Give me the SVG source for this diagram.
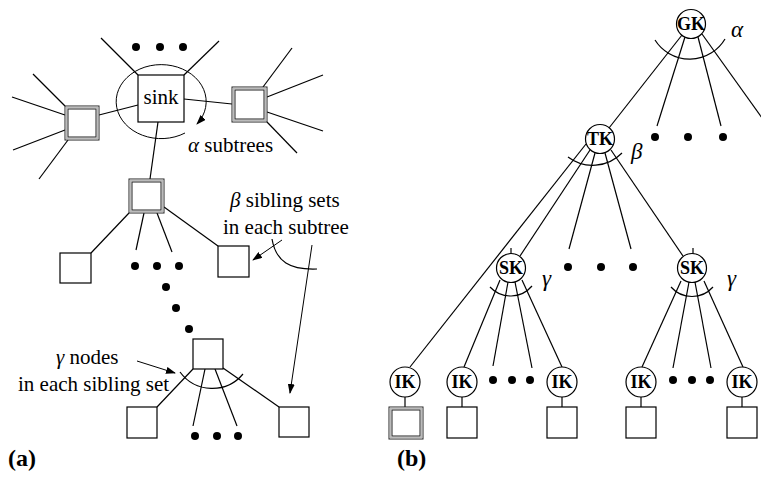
<svg xmlns="http://www.w3.org/2000/svg" width="761" height="482" viewBox="0 0 761 482">
<style>
text{font-family:"Liberation Serif","Times New Roman",serif;fill:#000}
.lbl{font-size:21px}
.gr{font-style:italic;font-size:23px}
.k{font-size:18px;font-weight:bold;text-anchor:middle}
.pn{font-size:24px;font-weight:bold}
.ln{stroke:#000;stroke-width:1.2;fill:none}
.sq{fill:#fff;stroke:#000;stroke-width:1.2}
.dq1{fill:#fff;stroke:#222;stroke-width:1}
.dq2{fill:none;stroke:#bbb;stroke-width:1.5}
.dq3{fill:none;stroke:#222;stroke-width:1}
.c{fill:#fff;stroke:#000;stroke-width:1.2}
.dot{fill:#000}
.arr{stroke:#000;stroke-width:1;fill:none;marker-end:url(#ah)}
</style>
<defs>
<marker id="ah" viewBox="0 0 10 7" refX="9" refY="3.5" markerWidth="10" markerHeight="7" markerUnits="userSpaceOnUse" orient="auto">
<path d="M0,0 L10,3.5 L0,7 z" fill="#000"/>
</marker>
</defs>

<g id="connectors">
<!-- panel a -->
<line class="ln" x1="138" y1="75" x2="101" y2="38"/>
<line class="ln" x1="184" y1="75" x2="219" y2="41"/>
<line class="ln" x1="99" y1="115" x2="138" y2="105"/>
<line class="ln" x1="184" y1="99" x2="232" y2="104"/>
<line class="ln" x1="158" y1="122" x2="150" y2="179"/>
<line class="ln" x1="65" y1="106" x2="33" y2="74"/>
<line class="ln" x1="65" y1="115" x2="12" y2="97"/>
<line class="ln" x1="65" y1="130" x2="13" y2="150"/>
<line class="ln" x1="68" y1="140" x2="39" y2="179"/>
<line class="ln" x1="263" y1="87" x2="292" y2="48"/>
<line class="ln" x1="267" y1="97" x2="323" y2="75"/>
<line class="ln" x1="267" y1="112" x2="323" y2="131"/>
<line class="ln" x1="267" y1="122" x2="297" y2="153"/>
<line class="ln" x1="129" y1="213" x2="91" y2="253"/>
<line class="ln" x1="144" y1="213" x2="136" y2="250"/>
<line class="ln" x1="157" y1="213" x2="172" y2="252"/>
<line class="ln" x1="164" y1="207" x2="218" y2="246"/>
<line class="ln" x1="193" y1="369" x2="157" y2="407"/>
<line class="ln" x1="205" y1="369" x2="193" y2="426"/>
<line class="ln" x1="215" y1="369" x2="237" y2="426"/>
<line class="ln" x1="223" y1="368" x2="279" y2="407"/>
<path class="ln" d="M180,372 A40,40 0 0 0 243,374"/>
<path class="arr" d="M185,133 A45,37 0 1 1 197,124"/>
<line class="arr" x1="282" y1="240" x2="253" y2="260"/>
<path class="ln" d="M272,239 C276,262 290,270 317,269"/>
<line class="arr" x1="312" y1="245" x2="290" y2="393"/>
<line class="arr" x1="137" y1="361" x2="175" y2="373"/>
<!-- panel b -->
<line class="ln" x1="682" y1="35" x2="609" y2="128"/>
<line class="ln" x1="685" y1="37" x2="657" y2="126"/>
<line class="ln" x1="698" y1="37" x2="721" y2="126"/>
<line class="ln" x1="702" y1="34" x2="775" y2="136"/>
<path class="ln" d="M655,40 A41,41 0 0 0 725,39"/>
<line class="ln" x1="586" y1="144" x2="410" y2="367"/>
<line class="ln" x1="590" y1="150" x2="520" y2="256"/>
<line class="ln" x1="595" y1="153" x2="569" y2="249"/>
<line class="ln" x1="605" y1="153" x2="631" y2="249"/>
<line class="ln" x1="611" y1="150" x2="683" y2="256"/>
<path class="ln" d="M568,157 A41,41 0 0 0 622,153"/>
<line class="ln" x1="500" y1="280" x2="464" y2="367"/>
<line class="ln" x1="508" y1="282" x2="493" y2="366"/>
<line class="ln" x1="515" y1="282" x2="532" y2="368"/>
<line class="ln" x1="522" y1="280" x2="562" y2="367"/>
<path class="ln" d="M490,287 A28,28 0 0 0 532,286"/>
<line class="ln" x1="681" y1="281" x2="642" y2="367"/>
<line class="ln" x1="689" y1="282" x2="673" y2="368"/>
<line class="ln" x1="695" y1="282" x2="711" y2="368"/>
<line class="ln" x1="704" y1="281" x2="743" y2="367"/>
<path class="ln" d="M671,287 A28,28 0 0 0 713,287"/>
<line class="ln" x1="511" y1="248" x2="511" y2="254"/>
<line class="ln" x1="693" y1="248" x2="693" y2="254"/>
<line class="ln" x1="405" y1="397" x2="405" y2="407"/>
<line class="ln" x1="462" y1="397" x2="462" y2="407"/>
<line class="ln" x1="562" y1="397" x2="562" y2="407"/>
<line class="ln" x1="641" y1="397" x2="641" y2="407"/>
<line class="ln" x1="742" y1="397" x2="742" y2="407"/>
</g>

<!-- panel a nodes -->
<g id="sink">
<rect class="sq" x="138" y="75" width="46" height="47"/>
<text class="lbl" x="161" y="104" text-anchor="middle">sink</text>
</g>
<g id="subtree-root-left">
<rect class="dq1" x="65" y="106" width="34" height="34"/>
<rect class="dq2" x="66.5" y="107.5" width="31" height="31"/>
<rect class="dq3" x="68" y="109" width="28" height="28"/>
</g>
<g id="subtree-root-right">
<rect class="dq1" x="232" y="87" width="35" height="35"/>
<rect class="dq2" x="233.5" y="88.5" width="32" height="32"/>
<rect class="dq3" x="235" y="90" width="29" height="29"/>
</g>
<g id="subtree-root-mid">
<rect class="dq1" x="129" y="179" width="35" height="34"/>
<rect class="dq2" x="130.5" y="180.5" width="32" height="31"/>
<rect class="dq3" x="132" y="182" width="29" height="28"/>
</g>
<g id="sib-left"><rect class="sq" x="60" y="253" width="31" height="30"/></g>
<g id="sib-right"><rect class="sq" x="218" y="246" width="31" height="31"/></g>
<g id="sib-node"><rect class="sq" x="193" y="339" width="30" height="30"/></g>
<g id="leaf-left"><rect class="sq" x="127" y="407" width="30" height="31"/></g>
<g id="leaf-right"><rect class="sq" x="279" y="407" width="30" height="30"/></g>
<g id="dots-a">
<circle class="dot" cx="136" cy="47" r="4"/><circle class="dot" cx="160" cy="47" r="4"/><circle class="dot" cx="183" cy="47" r="4"/>
<circle class="dot" cx="135" cy="266" r="4"/><circle class="dot" cx="157" cy="266" r="4"/><circle class="dot" cx="179" cy="266" r="4"/>
<circle class="dot" cx="166" cy="287" r="4"/><circle class="dot" cx="176" cy="308" r="4"/><circle class="dot" cx="189" cy="329" r="4"/>
<circle class="dot" cx="195" cy="436" r="4"/><circle class="dot" cx="217" cy="436" r="4"/><circle class="dot" cx="238" cy="436" r="4"/>
</g>
<g id="labels-a">
<text class="lbl" x="188" y="152"><tspan font-style="italic">α</tspan> subtrees</text>
<text class="lbl" x="230" y="207"><tspan font-style="italic">β</tspan> sibling sets</text>
<text class="lbl" x="223" y="234">in each subtree</text>
<text class="lbl" x="56" y="364"><tspan font-style="italic">γ</tspan> nodes</text>
<text class="lbl" x="18" y="391">in each sibling set</text>
<text class="pn" x="8" y="466">(a)</text>
</g>

<!-- panel b nodes -->
<g id="GK"><circle class="c" cx="691" cy="24" r="14.5"/><text class="k" x="691" y="30">GK</text></g>
<g id="TK"><circle class="c" cx="600" cy="139" r="14.5"/><text class="k" x="600" y="145">TK</text></g>
<g id="SK1"><circle class="c" cx="511" cy="268" r="14.5"/><text class="k" x="511" y="274">SK</text></g>
<g id="SK2"><circle class="c" cx="692" cy="268" r="14.5"/><text class="k" x="692" y="274">SK</text></g>
<g id="IK1"><circle class="c" cx="405" cy="382" r="15"/><text class="k" x="405" y="388">IK</text>
<rect class="dq1" x="389" y="407" width="34" height="32"/>
<rect class="dq2" x="390.5" y="408.5" width="31" height="29"/>
<rect class="dq3" x="392" y="410" width="28" height="26"/>
</g>
<g id="IK2"><circle class="c" cx="462" cy="382" r="15"/><text class="k" x="462" y="388">IK</text><rect class="sq" x="447" y="407" width="30" height="31"/></g>
<g id="IK3"><circle class="c" cx="562" cy="382" r="15"/><text class="k" x="562" y="388">IK</text><rect class="sq" x="547" y="407" width="30" height="31"/></g>
<g id="IK4"><circle class="c" cx="641" cy="382" r="15"/><text class="k" x="641" y="388">IK</text><rect class="sq" x="626" y="407" width="30" height="31"/></g>
<g id="IK5"><circle class="c" cx="742" cy="382" r="15"/><text class="k" x="742" y="388">IK</text><rect class="sq" x="727" y="407" width="30" height="31"/></g>
<g id="dots-b">
<circle class="dot" cx="655" cy="137" r="4"/><circle class="dot" cx="688" cy="137" r="4"/><circle class="dot" cx="723" cy="137" r="4"/>
<circle class="dot" cx="568" cy="267" r="4"/><circle class="dot" cx="601" cy="267" r="4"/><circle class="dot" cx="633" cy="267" r="4"/>
<circle class="dot" cx="493" cy="380" r="4"/><circle class="dot" cx="512" cy="380" r="4"/><circle class="dot" cx="530" cy="380" r="4"/>
<circle class="dot" cx="673" cy="380" r="4"/><circle class="dot" cx="692" cy="380" r="4"/><circle class="dot" cx="710" cy="380" r="4"/>
</g>
<g id="labels-b">
<text class="gr" x="731" y="37">α</text>
<text class="gr" x="631" y="159">β</text>
<text class="gr" x="542" y="286">γ</text>
<text class="gr" x="727" y="286">γ</text>
<text class="pn" x="397" y="466">(b)</text>
</g>
</svg>
